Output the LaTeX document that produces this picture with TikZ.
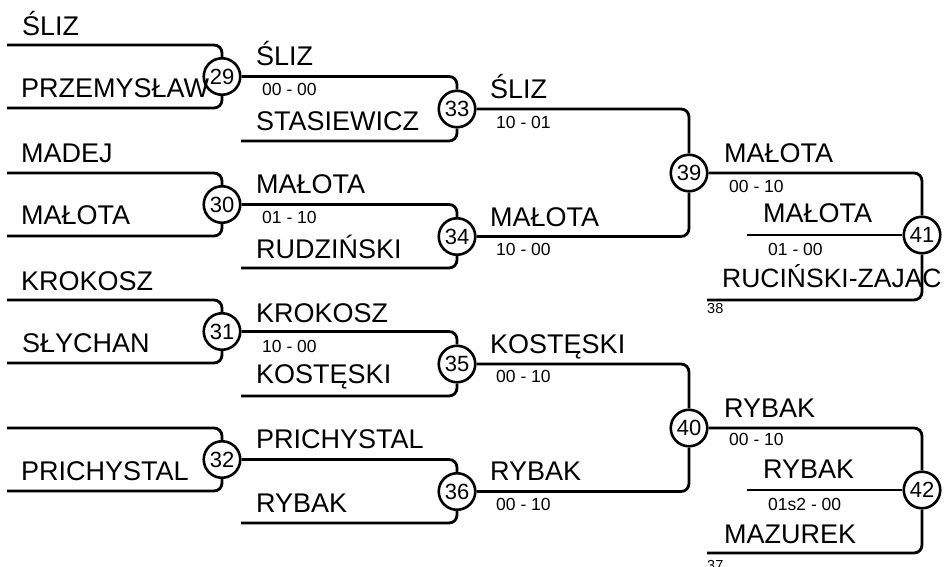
\documentclass[tikz,border=0pt]{standalone}
\usepackage{fontspec}
\setmainfont{Liberation Sans}
\begin{document}
\begin{tikzpicture}[x=1pt,y=-1pt,
 m/.style={circle,draw,line width=2.6pt,minimum size=36.5pt,inner sep=0pt,font=\fontsize{22}{22}\selectfont},
 nm/.style={anchor=base west,inner sep=0pt,font=\fontsize{27}{27}\selectfont},
 sc/.style={anchor=base west,inner sep=0pt,font=\fontsize{17.5}{17.5}\selectfont},
 sm/.style={anchor=base west,inner sep=0pt,font=\fontsize{14.5}{14.5}\selectfont},
 ln/.style={line width=2.8pt,rounded corners=8pt}]
\useasboundingbox (0,0) rectangle (944,566);
% match circles
\node[m] (c29) at (222,76.5) {29};
\node[m] (c30) at (222,204.5) {30};
\node[m] (c31) at (222,331.5) {31};
\node[m] (c32) at (222,459.5) {32};
\node[m] (c33) at (457,109) {33};
\node[m] (c34) at (457,236.5) {34};
\node[m] (c35) at (457,364) {35};
\node[m] (c36) at (457,491.5) {36};
\node[m] (c39) at (689,173) {39};
\node[m] (c40) at (689,428) {40};
\node[m] (c41) at (922,235) {41};
\node[m] (c42) at (922,490) {42};
% free line ends
\coordinate (a29) at (7,45);  \coordinate (b29) at (7,108);
\coordinate (a30) at (7,173); \coordinate (b30) at (7,236);
\coordinate (a31) at (7,300); \coordinate (b31) at (7,363);
\coordinate (a32) at (7,428); \coordinate (b32) at (7,491);
\coordinate (b33) at (241,141);
\coordinate (b34) at (241,268);
\coordinate (b35) at (241,396);
\coordinate (b36) at (241,523);
\coordinate (d41) at (747,235); \coordinate (e41) at (707,300);
\coordinate (d42) at (747,490); \coordinate (e42) at (707,553);
% connectors
\foreach \n in {29,30,31,32}{
  \draw[ln] (a\n) -| (c\n.north);
  \draw[ln] (b\n) -| (c\n.south);
}
\draw[ln] (c29.east) -| (c33.north); \draw[ln] (b33) -| (c33.south);
\draw[ln] (c30.east) -| (c34.north); \draw[ln] (b34) -| (c34.south);
\draw[ln] (c31.east) -| (c35.north); \draw[ln] (b35) -| (c35.south);
\draw[ln] (c32.east) -| (c36.north); \draw[ln] (b36) -| (c36.south);
\draw[ln] (c33.east) -| (c39.north); \draw[ln] (c34.east) -| (c39.south);
\draw[ln] (c35.east) -| (c40.north); \draw[ln] (c36.east) -| (c40.south);
\draw[ln] (c39.east) -| (c41.north); \draw[ln] (d41) -- (c41.west); \draw[ln] (e41) -| (c41.south);
\draw[ln] (c40.east) -| (c42.north); \draw[ln] (d42) -- (c42.west); \draw[ln] (e42) -| (c42.south);
% round 1 names
\node[nm] (t1) at (22,35) {ŚLIZ};
\node[nm] (t2) at (21,97) {PRZEMYSŁAW};
\node[nm] (t3) at (21,162) {MADEJ};
\node[nm] (t4) at (21,224) {MAŁOTA};
\node[nm] (t5) at (21,290) {KROKOSZ};
\node[nm] (t6) at (22,352) {SŁYCHAN};
\node[nm] (t7) at (21,480) {PRICHYSTAL};
% round 2
\node[nm] (u1) at (256,65) {ŚLIZ};
\node[sc] (s29) at (262,95) {00 - 00};
\node[nm] (u2) at (256,130) {STASIEWICZ};
\node[nm] (u3) at (256,193) {MAŁOTA};
\node[sc] (s30) at (262,223) {01 - 10};
\node[nm] (u4) at (256,258) {RUDZIŃSKI};
\node[nm] (u5) at (256,322) {KROKOSZ};
\node[sc] (s31) at (262,352) {10 - 00};
\node[nm] (u6) at (256,383) {KOSTĘSKI};
\node[nm] (u7) at (256,448) {PRICHYSTAL};
\node[nm] (u8) at (256,512) {RYBAK};
% round 3
\node[nm] (v1) at (490,98) {ŚLIZ};
\node[sc] (s33) at (496,128) {10 - 01};
\node[nm] (v2) at (490,226) {MAŁOTA};
\node[sc] (s34) at (496,255) {10 - 00};
\node[nm] (v3) at (490,353) {KOSTĘSKI};
\node[sc] (s35) at (496,382) {00 - 10};
\node[nm] (v4) at (490,480) {RYBAK};
\node[sc] (s36) at (496,510) {00 - 10};
% round 4
\node[nm] (w1) at (724,162) {MAŁOTA};
\node[sc] (s39) at (729,192) {00 - 10};
\node[nm] (w2) at (763,222) {MAŁOTA};
\node[sc] (s41) at (768,255) {01 - 00};
\node[nm,font=\fontsize{26.5}{26.5}\selectfont] (w3) at (722,287) {RUCIŃSKI-ZAJAC};
\node[sm] (n38) at (707,313) {38};
\node[nm] (w4) at (724,417) {RYBAK};
\node[sc] (s40) at (729,445) {00 - 10};
\node[nm] (w5) at (763,478) {RYBAK};
\node[sc] (s42) at (768,510) {01s2 - 00};
\node[nm] (w6) at (724,543) {MAZUREK};
\node[sm] (n37) at (707,570) {37};
\end{tikzpicture}
\end{document}
